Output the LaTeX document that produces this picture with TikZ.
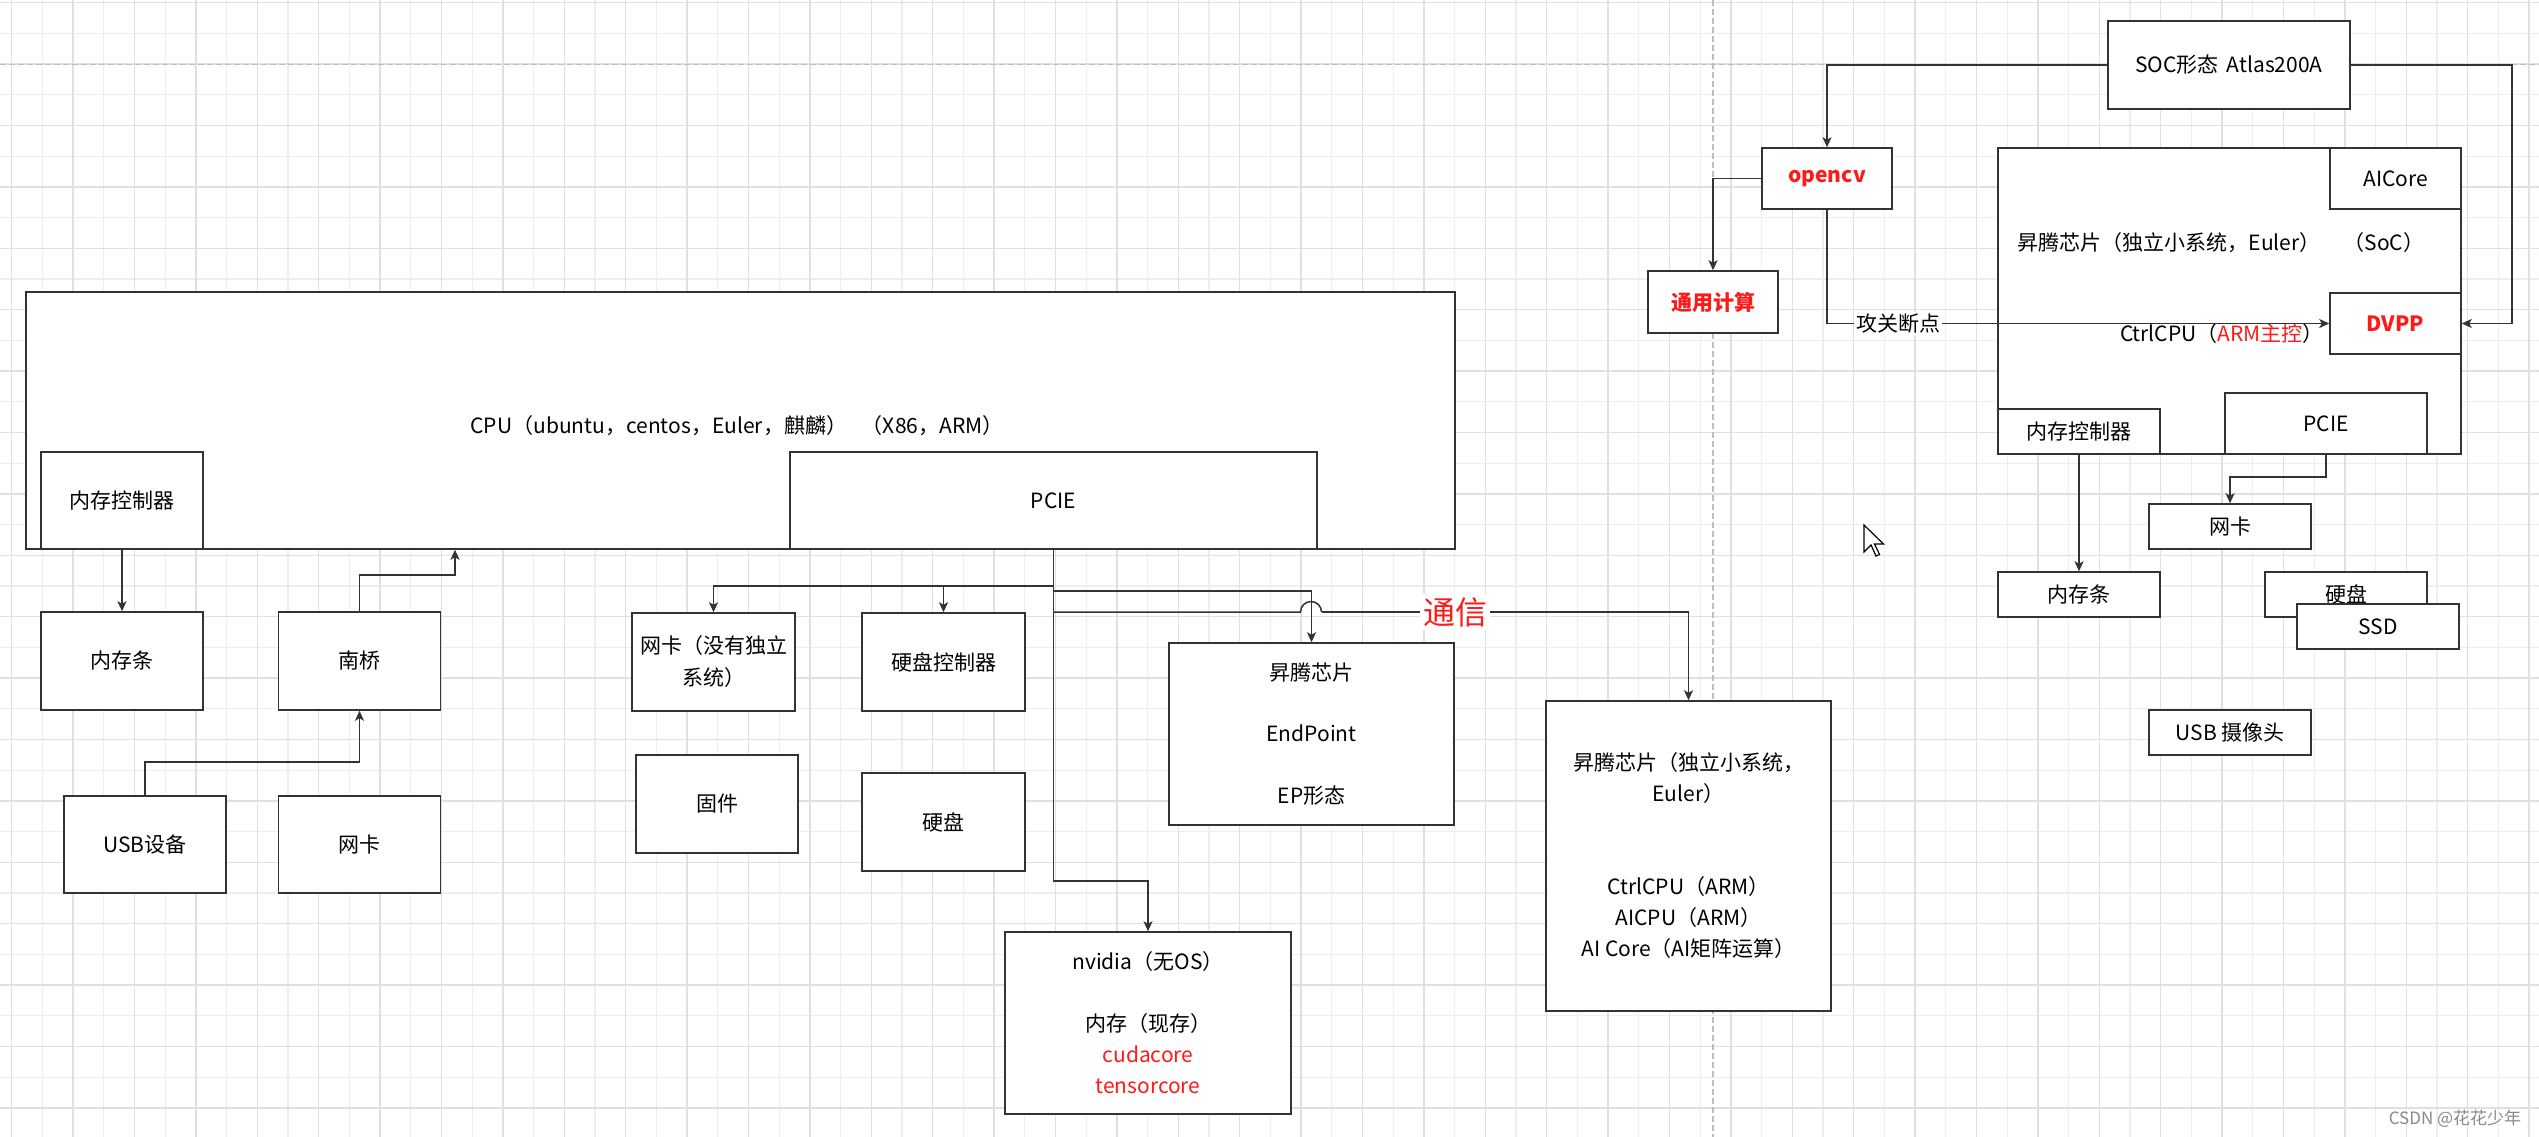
\documentclass[tikz,border=0pt]{standalone}
\usepackage{fontspec}
\setmainfont{Noto Sans CJK SC}
\usetikzlibrary{arrows.meta}
\definecolor{linec}{HTML}{333333}
\definecolor{gmaj}{HTML}{E0E0E0}
\definecolor{gmin}{HTML}{EEEEEE}
\definecolor{guide}{HTML}{BEBEBE}
\definecolor{txtred}{HTML}{FF1A1A}
\definecolor{wm}{HTML}{8A8A8A}
\begin{document}
\begin{tikzpicture}[x=1pt,y=-1pt,
  box/.style={draw=linec, fill=white, line width=1.5pt, inner sep=0pt, align=center,
    font=\fontsize{21}{31}\selectfont, text=black},
  redbox/.style={box, font=\fontsize{21}{31}\selectfont\bfseries, text=txtred},
  arr/.style={draw=linec, line width=1.5pt, -{Stealth[length=10pt,width=9pt,inset=2.5pt]}},
  conn/.style={draw=linec, line width=1.5pt},
  lbl/.style={inner sep=1pt, font=\fontsize{21}{31}\selectfont, align=center, text=black},
  gridmaj/.style={draw=gmaj, line width=1.3pt},
  gridmin/.style={draw=gmin, line width=1.3pt},
  guideline/.style={draw=guide, line width=1.3pt, dash pattern=on 6pt off 3pt}]

\fill[white] (0,0) rectangle (2539,1137);
\useasboundingbox (0,0) rectangle (2539,1137);

% grid
\foreach \k in {1,3,...,81} { \draw[gridmin] ({11.7+30.7*\k},0) -- ({11.7+30.7*\k},1137); }
\foreach \k in {1,3,...,35} { \draw[gridmin] (0,{2.7+30.7*\k}) -- (2539,{2.7+30.7*\k}); }
\foreach \k in {0,2,...,82} { \draw[gridmaj] ({11.7+30.7*\k},0) -- ({11.7+30.7*\k},1137); }
\foreach \k in {0,2,...,36} { \draw[gridmaj] (0,{2.7+30.7*\k}) -- (2539,{2.7+30.7*\k}); }

% page guides
\draw[guideline] (0,64.3) -- (2539,64.3);
\draw[guideline] (1713,0) -- (1713,1137);

% ---------- left part ----------
\node[box, minimum width=1429pt, minimum height=257pt] (cpu) at (740.5,420.5) {};
\node[lbl] (cput) at (737,426) {CPU（ubuntu，centos，Euler，麒麟）\hspace{15pt}（X86，ARM）};
\node[box, minimum width=162pt, minimum height=97pt] (lmc) at (122,500.5) {内存控制器};
\node[box, minimum width=527pt, minimum height=97pt] (lpcie) at (1053.5,500.5) {PCIE};

\node[box, minimum width=162pt, minimum height=98pt] (lmem) at (122,661) {内存条};
\node[box, minimum width=162pt, minimum height=98pt] (snb) at (359.5,661) {南桥};
\node[box, minimum width=162pt, minimum height=97pt] (usb) at (145,844.5) {USB设备};
\node[box, minimum width=162pt, minimum height=97pt] (lnic) at (359.5,844.5) {网卡};

\node[box, minimum width=163pt, minimum height=98pt] (nic2) at (713.5,662) {网卡（没有独立\\[1pt]系统）};
\node[box, minimum width=163pt, minimum height=98pt] (hdc) at (943.5,662) {硬盘控制器};
\node[box, minimum width=162pt, minimum height=98pt] (fw) at (717,804) {固件};
\node[box, minimum width=163pt, minimum height=98pt] (hd) at (943.5,822) {硬盘};

\node[box, minimum width=285pt, minimum height=182pt] (ep) at (1311.5,734) {昇腾芯片\\[30.5pt]EndPoint\\[30.5pt]EP形态};
\node[box, minimum width=285pt, minimum height=310pt] (eul) at (1688.5,856)
  {昇腾芯片（独立小系统，\\Euler）\\[62pt]CtrlCPU（ARM）\\AICPU（ARM）\\AI Core（AI矩阵运算）};
\node[box, minimum width=286pt, minimum height=182pt] (nv) at (1148,1023)
  {nvidia（无OS）\\[31pt]内存（现存）\\\textcolor{txtred}{cudacore}\\\textcolor{txtred}{tensorcore}};

% ---------- right part ----------
\node[box, minimum width=242pt, minimum height=88pt] (soc) at (2229,65) {SOC形态\hspace{8pt}Atlas200A};
\node[redbox, minimum width=130pt, minimum height=61pt] (ocv) at (1827,178.5) {opencv};
\node[redbox, minimum width=130pt, minimum height=62pt] (gen) at (1713,302) {通用计算};
\node[box, minimum width=463pt, minimum height=306pt] (big) at (2229.5,301) {};
\node[lbl] (bigt) at (2221,243) {昇腾芯片（独立小系统，Euler）\hspace{23pt}（SoC）};
\node[lbl] (ctrlt) at (2222,334) {CtrlCPU（\textcolor{txtred}{ARM主控}）};
\node[box, minimum width=131pt, minimum height=61pt] (aic) at (2395.5,178.5) {AICore};
\node[redbox, minimum width=131pt, minimum height=61pt] (dvpp) at (2395.5,323.5) {DVPP};
\node[box, minimum width=162pt, minimum height=45pt] (rmc) at (2079,431.5) {内存控制器};
\node[box, minimum width=202pt, minimum height=61pt] (rpcie) at (2326,423.5) {PCIE};
\node[box, minimum width=162pt, minimum height=45pt] (rnic) at (2230,526.5) {网卡};
\node[box, minimum width=162pt, minimum height=45pt] (rmem) at (2079,594.5) {内存条};
\node[box, minimum width=162pt, minimum height=45pt] (rhd) at (2346,594.5) {硬盘};
\node[box, minimum width=162pt, minimum height=45pt] (ssd) at (2378,626.5) {SSD};
\node[box, minimum width=162pt, minimum height=45pt] (cam) at (2230,732.5) {USB 摄像头};

% ---------- connectors left ----------
\coordinate (snbUp) at (455,575);
\coordinate (usbTurn) at (145,762);
\coordinate (trunk) at (1053.5,881);
\coordinate (b1) at (1053.5,586);
\coordinate (b2) at (1053.5,591);
\coordinate (b3) at (1053.5,612);
\coordinate (hopA) at (1300.5,612);
\coordinate (hopB) at (1321.5,612);
\coordinate (eulTurn) at (1688.5,612);

\draw[arr] (lmc.south) -- (lmem.north);
\draw[arr] (snb.north) |- (snbUp) -- (snbUp |- cpu.south);
\draw[arr] (usb.north) -- (usbTurn) -| (snb.south);
\draw[arr] (lpcie.south) -- (trunk) -| (nv.north);
\draw[arr] (b1) -| (nic2.north);
\draw[arr] (hdc.north |- b1) -- (hdc.north);
\draw[arr] (b2) -| (ep.north);
\draw[conn] (b3) -- (hopA) arc[start angle=180, end angle=0, radius=10.5pt] -- (hopB);
\draw[arr] (hopB) -- (eulTurn) -- (eul.north);
\node[inner sep=3pt, fill=white, text=txtred, font=\fontsize{32}{36}\selectfont] (comm) at (1455,612) {通信};

% ---------- connectors right ----------
\coordinate (socR) at (2512,65);
\coordinate (rp1) at (2326,477);
\draw[arr] (soc.west) -| (ocv.north);
\draw[arr] (soc.east) -- (socR) |- (dvpp.east);
\draw[arr] (ocv.west) -| (gen.north);
\draw[arr] (ocv.south) |- (dvpp.west);
\node[lbl, fill=white, inner sep=2pt] (gongguan) at (1898,324) {攻关断点};
\draw[arr] (rmc.south) -- (rmem.north);
\draw[arr] (rpcie.south) -- (rp1) -| (rnic.north);

% mouse cursor
\draw[fill=white, draw=black, line width=1.2pt, line join=miter]
  (1864,525) -- ++(0,27) -- ++(7,-7) -- ++(5,11) -- ++(3.5,-1.5) -- ++(-5,-10.5) -- ++(9,0) -- cycle;

% watermark
\node[text=wm, font=\fontsize{17}{20}\selectfont, inner sep=0pt] (wmk) at (2455,1119) {CSDN @花花少年};
\end{tikzpicture}
\end{document}
